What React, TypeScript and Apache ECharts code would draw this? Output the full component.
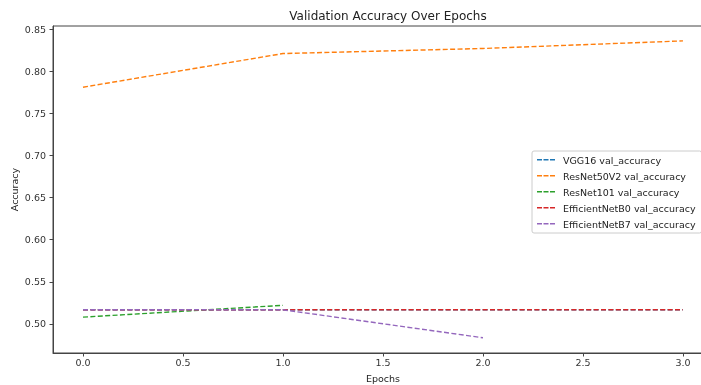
import React, { useEffect, useRef } from "react";
import * as echarts from "echarts";

const epochs = [0, 1, 2, 3];
const vgg16 = [0.5167, 0.5167, 0.5167, 0.5167];
const resnet50v2 = [0.781, 0.821, 0.827, 0.836];
const resnet101 = [0.508, 0.522];
const effB0 = [0.5167, 0.5167, 0.5167, 0.5167];
const effB7 = [0.5167, 0.5167, 0.4835];
const seriesNames = [
  "VGG16 val_accuracy",
  "ResNet50V2 val_accuracy",
  "ResNet101 val_accuracy",
  "EfficientNetB0 val_accuracy",
  "EfficientNetB7 val_accuracy",
];
const xTicks = [0, 0.5, 1, 1.5, 2, 2.5, 3];
const yTicks = [0.5, 0.55, 0.6, 0.65, 0.7, 0.75, 0.8, 0.85];
const colors = ["#1f77b4", "#ff7f0e", "#2ca02c", "#d62728", "#9467bd"];

export default function App() {
  const ref = useRef<HTMLDivElement>(null);
  useEffect(() => {
    if (!ref.current) return;
    const chart = echarts.init(ref.current, null, { renderer: "svg" });
    const all = [vgg16, resnet50v2, resnet101, effB0, effB7];
    const font = "DejaVu Sans";
    const axisColor = "#444";
    chart.setOption({
      animation: false,
      textStyle: { fontFamily: font },
      title: {
        text: "Validation Accuracy Over Epochs",
        left: 383,
        textAlign: "center",
        top: 5,
        textStyle: { fontFamily: font, fontSize: 12, fontWeight: "normal", color: "#222" },
      },
      grid: {
        left: 53,
        top: 26,
        width: 660,
        height: 327,
        outerBoundsMode: "none",
        containLabel: false,
        show: true,
        borderColor: axisColor,
        borderWidth: 1,
        backgroundColor: "transparent",
      },
      legend: {
        orient: "vertical",
        left: 532,
        top: 151,
        padding: [4, 6, 4, 5],
        itemGap: 6,
        itemWidth: 18,
        itemHeight: 10,
        icon: "path://M0,4h5v1.6h-5z M6.5,4h5v1.6h-5z M13,4h5v1.6h-5z M0,0h0.01v10h-0.01z",
        borderColor: "#ccc",
        borderWidth: 1,
        borderRadius: 2,
        backgroundColor: "rgba(255,255,255,0.8)",
        textStyle: { fontFamily: font, fontSize: 9.5, color: "#222", padding: [0, 0, 0, 3] },
        data: seriesNames,
      },
      xAxis: {
        type: "value",
        min: -0.15,
        max: 3.15,
        name: "Epochs",
        nameLocation: "middle",
        nameGap: 20,
        nameTextStyle: { fontFamily: font, fontSize: 9.5, color: "#222" },
        splitLine: { show: false },
        axisLine: { show: true, onZero: false, lineStyle: { color: axisColor, width: 1 } },
        axisTick: { show: true, length: 3.5, customValues: xTicks, lineStyle: { color: axisColor } },
        axisLabel: {
          customValues: xTicks,
          formatter: (v: number) => v.toFixed(1),
          fontFamily: font,
          fontSize: 9.5,
          color: "#333",
          margin: 4,
        },
      },
      yAxis: {
        type: "value",
        min: 0.4654,
        max: 0.8537,
        name: "Accuracy",
        nameLocation: "middle",
        nameGap: 34,
        nameMoveOverlap: false,
        nameRotate: 90,
        nameTextStyle: { fontFamily: font, fontSize: 9.5, color: "#222" },
        splitLine: { show: false },
        axisLine: { show: true, onZero: false, lineStyle: { color: axisColor, width: 1 } },
        axisTick: { show: true, length: 3.5, customValues: yTicks, lineStyle: { color: axisColor } },
        axisLabel: {
          customValues: yTicks,
          formatter: (v: number) => v.toFixed(2),
          fontFamily: font,
          fontSize: 9.5,
          color: "#333",
          margin: 7,
        },
      },
      series: all.map((vals, i) => ({
        name: seriesNames[i],
        type: "line",
        symbol: "none",
        color: colors[i],
        itemStyle: { color: colors[i] },
        lineStyle: { color: colors[i], width: 1.4, type: [5, 2.4] },
        data: vals.map((v, j) => [epochs[j], v]),
        z: 2 + i,
      })),
    });
    return () => chart.dispose();
  }, []);
  return (
    <div style={{ position: "fixed", left: 0, top: 0, width: 701, height: 385, overflow: "hidden" }}>
      <div ref={ref} style={{ width: 730, height: 385 }} />
    </div>
  );
}
